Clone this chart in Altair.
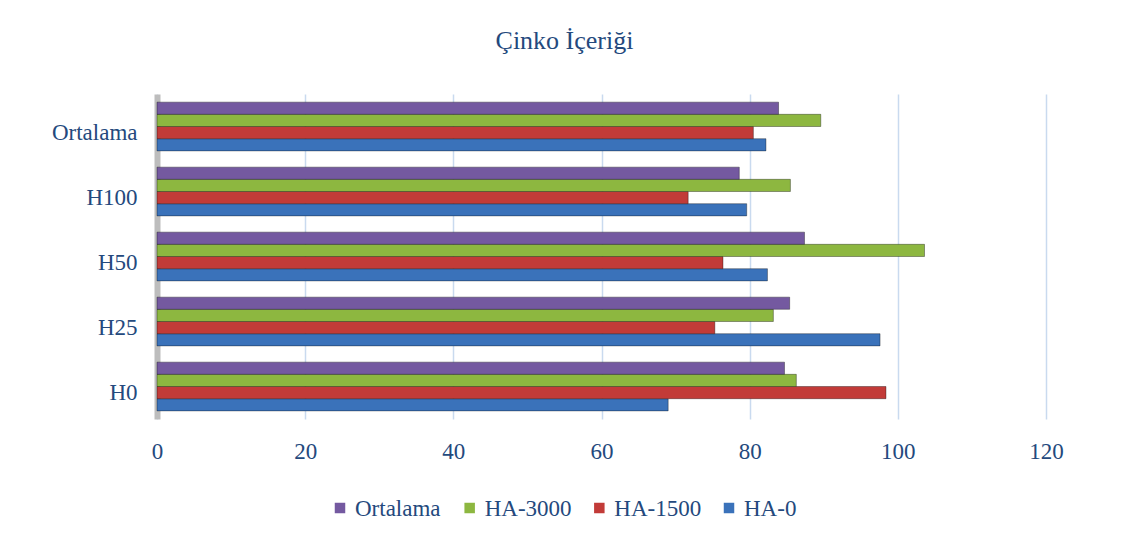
import altair as alt
import pandas as pd

categories = ["H0", "H25", "H50", "H100", "Ortalama"]
series = ["Ortalama", "HA-3000", "HA-1500", "HA-0"]
ha0 = [69.0, 97.6, 82.4, 79.6, 82.2]
ha1500 = [98.4, 75.3, 76.4, 71.7, 80.5]
ha3000 = [86.3, 83.2, 103.6, 85.5, 89.6]
ortalama = [84.7, 85.4, 87.4, 78.6, 83.9]
colors = ["#7459A0", "#8DB740", "#C23B38", "#3A72BA"]

rows = []
for name, vals in zip(["HA-0", "HA-1500", "HA-3000", "Ortalama"], [ha0, ha1500, ha3000, ortalama]):
    for c, v in zip(categories, vals):
        rows.append({"Kategori": c, "Seri": name, "Deger": v})
df = pd.DataFrame(rows)
legend_df = pd.DataFrame({"Seri": series})

text_color = "#24497D"
font = "Liberation Serif"

y_order = ["Ortalama", "H100", "H50", "H25", "H0"]
color_scale = alt.Scale(domain=series, range=colors)

bars = alt.Chart(df).mark_bar(stroke="#000000", strokeOpacity=0.35, strokeWidth=1).encode(
    x=alt.X("Deger:Q", scale=alt.Scale(domain=[0, 120], nice=False),
            axis=alt.Axis(values=[0, 20, 40, 60, 80, 100, 120], title=None, grid=True,
                          gridColor="#C9DAEF", gridWidth=1.5, domain=False, ticks=False,
                          labelFlush=False, labelPadding=21, labelFont=font,
                          labelFontSize=23, labelColor=text_color)),
    y=alt.Y("Kategori:N", sort=y_order,
            scale=alt.Scale(paddingInner=0.25, paddingOuter=0.125),
            axis=alt.Axis(title=None, ticks=False, domain=True, domainColor="#BDBDBD",
                          domainWidth=6, labelPadding=20, labelOffset=6, labelFont=font,
                          labelFontSize=23, labelColor=text_color)),
    yOffset=alt.YOffset("Seri:N", sort=series),
    color=alt.Color("Seri:N", sort=series, scale=color_scale, legend=None),
)

legend_x = alt.X("Seri:N", sort=series, axis=None,
                 scale=alt.Scale(type="point", range=[183, 572], padding=0))

legend_sym = alt.Chart(legend_df).mark_square(size=110, opacity=1).encode(
    x=legend_x,
    y=alt.value(414),
    color=alt.Color("Seri:N", sort=series, scale=color_scale, legend=None),
)

legend_txt = alt.Chart(legend_df).mark_text(
    align="left", baseline="middle", dx=15, dy=1, font=font, fontSize=23,
    color=text_color
).encode(
    x=legend_x,
    y=alt.value(414),
    text="Seri:N",
)

chart = alt.layer(bars, legend_sym, legend_txt).resolve_scale(x="independent").properties(
    width=889,
    height=325,
    autosize=alt.AutoSizeParams(type="none"),
    padding={"left": 149, "top": 86, "right": 73, "bottom": 117},
    title=alt.TitleParams("Çinko İçeriği", font=font, fontSize=26, fontWeight="normal",
                          color=text_color, dx=-37, offset=40),
).configure(
    background="white",
    font=font,
    view={"stroke": None},
)

chart.save("out.html", embed_options={"renderer": "svg", "actions": False})
